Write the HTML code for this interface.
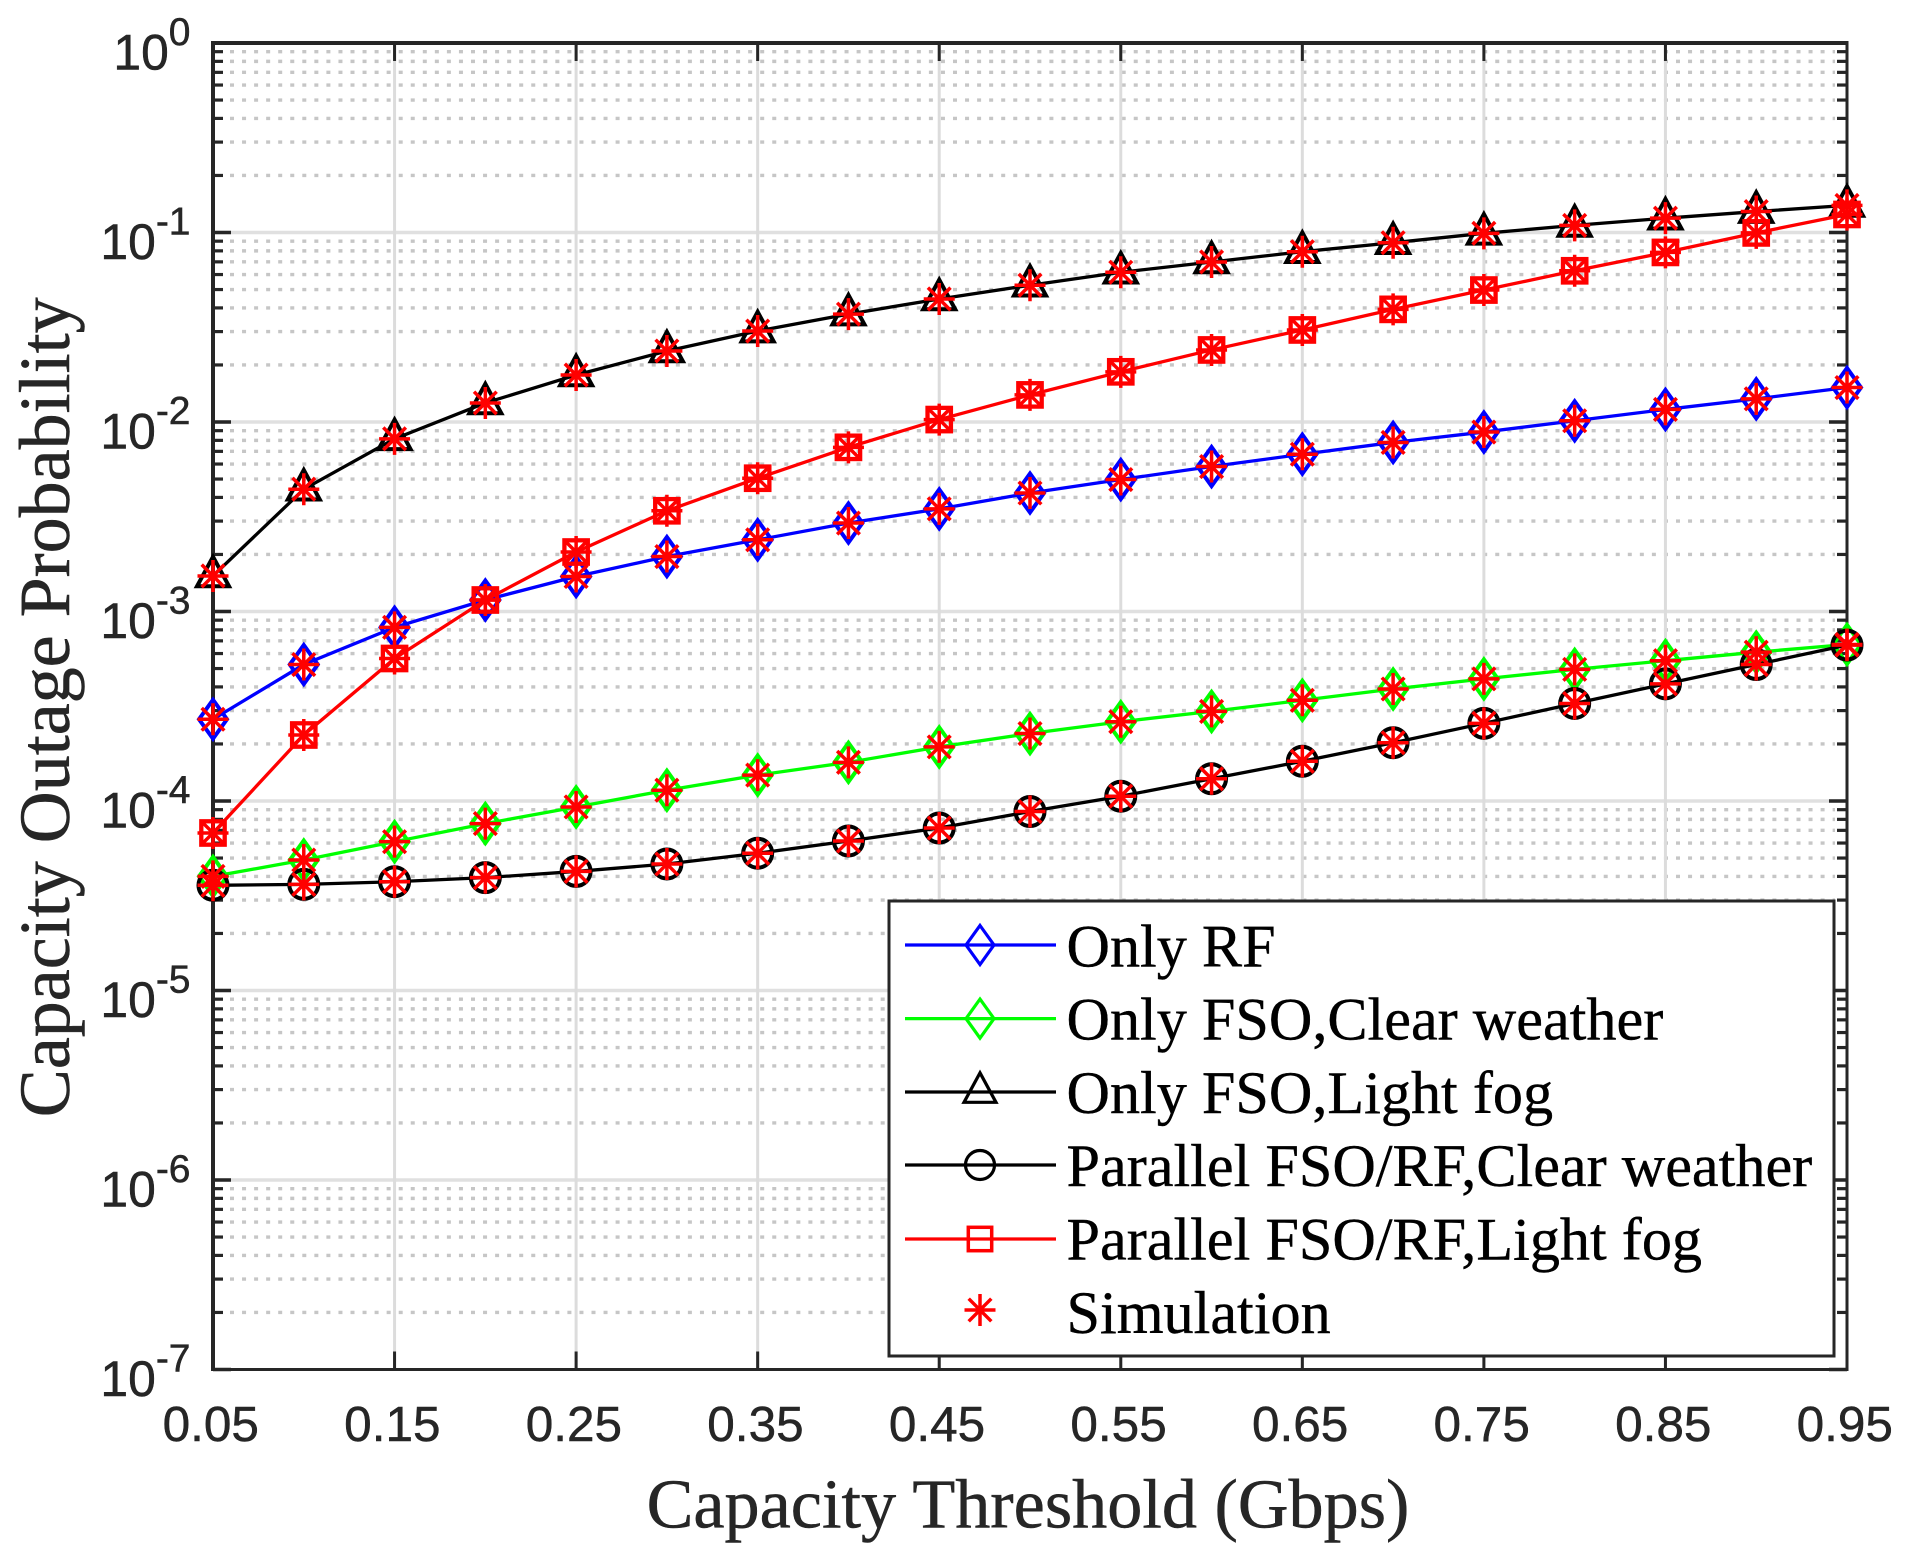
<!DOCTYPE html>
<html lang="en">
<head>
<meta charset="utf-8">
<title>Capacity Outage Probability</title>
<style>
html,body{margin:0;padding:0;background:#fff;}
svg{display:block;}
text{fill:#262626;}
.serif{font-family:"Liberation Serif","Times New Roman",serif;}
.sans{font-family:"Liberation Sans",Arial,sans-serif;}
</style>
</head>
<body>
<svg id="chart" xmlns="http://www.w3.org/2000/svg" width="1909" height="1556" viewBox="0 0 1909 1556"></svg>
<script>
// ---- chart data ----
const categories = [0.05,0.10,0.15,0.20,0.25,0.30,0.35,0.40,0.45,0.50,0.55,0.60,0.65,0.70,0.75,0.80,0.85,0.90,0.95];
const onlyRF = [2.7e-4,5.25e-4,8.25e-4,1.15e-3,1.53e-3,1.95e-3,2.39e-3,2.93e-3,3.48e-3,4.22e-3,4.97e-3,5.82e-3,6.76e-3,7.8e-3,8.85e-3,1.015e-2,1.165e-2,1.325e-2,1.52e-2];
const onlyFsoClear = [4.0e-5,4.88e-5,6.1e-5,7.6e-5,9.3e-5,1.14e-4,1.37e-4,1.6e-4,1.93e-4,2.27e-4,2.62e-4,2.97e-4,3.4e-4,3.9e-4,4.41e-4,4.95e-4,5.5e-4,6.1e-4,6.7e-4];
const onlyFsoFog = [1.54e-3,4.42e-3,8.15e-3,1.26e-2,1.77e-2,2.37e-2,3.02e-2,3.71e-2,4.46e-2,5.27e-2,6.17e-2,6.99e-2,7.92e-2,8.83e-2,9.9e-2,1.09e-1,1.19e-1,1.29e-1,1.39e-1];
const parallelClear = [3.59e-5,3.63e-5,3.75e-5,3.94e-5,4.25e-5,4.65e-5,5.3e-5,6.15e-5,7.2e-5,8.8e-5,1.06e-4,1.31e-4,1.62e-4,2.03e-4,2.57e-4,3.27e-4,4.15e-4,5.25e-4,6.65e-4];
const parallelFog = [6.78e-5,2.23e-4,5.65e-4,1.15e-3,2.06e-3,3.4e-3,5.05e-3,7.35e-3,1.03e-2,1.39e-2,1.84e-2,2.4e-2,3.06e-2,3.93e-2,4.97e-2,6.28e-2,7.85e-2,9.95e-2,1.245e-1];
const xTickLabels = ["0.05","0.15","0.25","0.35","0.45","0.55","0.65","0.75","0.85","0.95"];
const yTickExponents = [0,-1,-2,-3,-4,-5,-6,-7];
const minorMultipliers = [2,3,4,5,6,7,8,9];
const legendLabels = ["Only RF","Only FSO,Clear weather","Only FSO,Light fog","Parallel FSO/RF,Clear weather","Parallel FSO/RF,Light fog","Simulation"];

// ---- axis functions ----
const plotLeft = 213, plotRight = 1847, plotTop = 43, plotBottom = 1369.5;
const xMin = 0.05, xMax = 0.95, yMinExp = -7, yMaxExp = 0;
function xScale(v){ return plotLeft + (v - xMin) / (xMax - xMin) * (plotRight - plotLeft); }
function yScale(v){ return plotTop + (yMaxExp - Math.log10(v)) / (yMaxExp - yMinExp) * (plotBottom - plotTop); }

const NS = "http://www.w3.org/2000/svg";
const svg = document.getElementById("chart");
function mk(tag, attrs, parent){
  const e = document.createElementNS(NS, tag);
  for (const k in attrs) e.setAttribute(k, attrs[k]);
  (parent || svg).appendChild(e);
  return e;
}
function group(parent){ return mk("g", {}, parent); }

// ---- grid ----
const gridGroup = group(svg);


yTickExponents.forEach(function(ex){
  if (ex > yMinExp) minorMultipliers.forEach(function(m){
    const y = yScale(m * Math.pow(10, ex - 1));
    const g = mk("line", {x1:230, x2:1835, y1:y, y2:y, stroke:"#c6c6c6", "stroke-width":3.4, "stroke-dasharray":"4 8.05"}, gridGroup);
    
    
  });
  if (ex < yMaxExp && ex > yMinExp) {
    const y = yScale(Math.pow(10, ex));
    const g = mk("line", {x1:plotLeft, x2:plotRight, y1:y, y2:y, stroke:"#e0e0e0", "stroke-width":3.6}, gridGroup);
    
    
  }
});
xTickLabels.forEach(function(lbl){
  const x = xScale(parseFloat(lbl));
  const g = mk("line", {x1:x, x2:x, y1:plotTop, y2:plotBottom, stroke:"#dcdcdc", "stroke-width":3}, gridGroup);
  
  
});

// ---- axes box and ticks ----
const axesGroup = group(svg);


function axisLine(x1, y1, x2, y2, w, name){
  const a = mk("line", {x1:x1, y1:y1, x2:x2, y2:y2, stroke:"#262626", "stroke-width":w}, axesGroup);
  
  
}
axisLine(plotLeft, plotTop - 2, plotLeft, plotBottom + 1.5, 4, 'y-axis-line');
axisLine(plotLeft, plotTop, plotRight + 1.5, plotTop, 4, 'top-axis-line');
axisLine(plotRight, plotTop, plotRight, plotBottom + 1.5, 3, 'right-axis-line');
axisLine(plotLeft, plotBottom, plotRight + 1.5, plotBottom, 3, 'x-axis-line');
function tick(x1, y1, x2, y2, name, w){
  const t = mk("line", {x1:x1, y1:y1, x2:x2, y2:y2, stroke:"#262626", "stroke-width":w}, axesGroup);
  
  
}
xTickLabels.forEach(function(lbl){
  const x = xScale(parseFloat(lbl));
  tick(x, plotBottom, x, plotBottom - 18, 'x-tick', 3);
  tick(x, plotTop, x, plotTop + 18, 'x-tick-top', 3);
  const t = mk("text", {x:x - 2.2, y:1441, "text-anchor":"middle", "font-size":49.5, stroke:"#262626", "stroke-width":0.5, "class":"sans"}, svg);
  t.textContent = lbl;
  
  
});
yTickExponents.forEach(function(ex){
  const y = yScale(Math.pow(10, ex));
  tick(plotLeft, y, plotLeft + 18, y, 'y-tick', 3.6);
  tick(plotRight, y, plotRight - 18, y, 'y-tick-right', 3.6);
  if (ex > yMinExp) minorMultipliers.forEach(function(m){
    const ym = yScale(m * Math.pow(10, ex - 1));
    tick(plotLeft, ym, plotLeft + 10, ym, 'y-minor-tick', 3.2);
    tick(plotRight, ym, plotRight - 10, ym, 'y-minor-tick-right', 3.2);
  });
  const t = mk("text", {x:190.5, y:y + 26.5, "text-anchor":"end", "font-size":49.8, stroke:"#262626", "stroke-width":0.5, "class":"sans"}, svg);
  
  
  const base = mk("tspan", {}, t);
  base.textContent = "10";
  const exp = mk("tspan", {dy:-24.5, "font-size":39}, t);
  exp.textContent = String(ex);
});

// ---- markers ----
function drawMarker(kind, x, y, color, parent, sw){
  let m;
  if (kind === "diamond") {
    m = mk("polygon", {points:[x,y-19.5,x+14,y,x,y+19.5,x-14,y].join(" "), fill:"none", stroke:color, "stroke-width":sw, "stroke-miterlimit":10}, parent);
  } else if (kind === "triangle") {
    m = mk("polygon", {points:[x,y-19.2,x+16,y+10.3,x-16,y+10.3].join(" "), fill:"none", stroke:color, "stroke-width":sw, "stroke-miterlimit":10}, parent);
  } else if (kind === "circle") {
    m = mk("circle", {cx:x, cy:y, r:14.5, fill:"none", stroke:color, "stroke-width":sw}, parent);
  } else if (kind === "square") {
    m = mk("rect", {x:x-11.7, y:y-11.7, width:23.4, height:23.4, fill:"none", stroke:color, "stroke-width":sw + 0.3}, parent);
  } else {
    const d = "M"+(x-15.5)+" "+y+"H"+(x+15.5)+"M"+x+" "+(y-16)+"V"+(y+16)+
      "M"+(x-11.3)+" "+(y-11.3)+"L"+(x+11.3)+" "+(y+11.3)+"M"+(x-11.3)+" "+(y+11.3)+"L"+(x+11.3)+" "+(y-11.3);
    m = mk("path", {d:d, fill:"none", stroke:color, "stroke-width":3.5}, parent);
  }
  
  
  return m;
}

// ---- series ----
const seriesList = [
  {name:"only-rf-series", values:onlyRF, color:"#0000ff", marker:"diamond"},
  {name:"only-fso-clear-series", values:onlyFsoClear, color:"#00ff00", marker:"diamond"},
  {name:"only-fso-fog-series", values:onlyFsoFog, color:"#000000", marker:"triangle"},
  {name:"parallel-clear-series", values:parallelClear, color:"#000000", marker:"circle"},
  {name:"parallel-fog-series", values:parallelFog, color:"#ff0000", marker:"square"}
];
seriesList.forEach(function(s){
  const g = group(svg);
  
  
  const pts = s.values.map(function(v, i){ return xScale(categories[i]) + "," + yScale(v); }).join(" ");
  const line = mk("polyline", {points:pts, fill:"none", stroke:s.color, "stroke-width":3.3}, g);
  
  
  s.values.forEach(function(v, i){ drawMarker(s.marker, xScale(categories[i]), yScale(v), s.color, g, 4); });
});
const simGroup = group(svg);


seriesList.forEach(function(s){
  s.values.forEach(function(v, i){ drawMarker("star", xScale(categories[i]), yScale(v), "#ff0000", simGroup, 3.5); });
});

// ---- axis titles ----
const xTitle = mk("text", {x:1028, y:1527.5, "text-anchor":"middle", "font-size":70.2, stroke:"#262626", "stroke-width":0.5, "class":"serif"}, svg);
xTitle.textContent = "Capacity Threshold (Gbps)";


const yTitle = mk("text", {transform:"translate(69 707.3) rotate(-90)", "text-anchor":"middle", "font-size":72, stroke:"#262626", "stroke-width":0.5, "class":"serif"}, svg);
yTitle.textContent = "Capacity Outage Probability";



// ---- legend ----
const legend = group(svg);


const legendBox = mk("rect", {x:889, y:901, width:945, height:455, fill:"#ffffff", stroke:"#262626", "stroke-width":3}, legend);


const legendY = [945, 1018.6, 1092, 1165, 1239, 1310];
const legendBaseline = [966.7, 1039.5, 1113, 1186, 1259.5, 1333];
const legendStyles = [
  {color:"#0000ff", marker:"diamond"},
  {color:"#00ff00", marker:"diamond"},
  {color:"#000000", marker:"triangle"},
  {color:"#000000", marker:"circle"},
  {color:"#ff0000", marker:"square"},
  {color:"#ff0000", marker:"star"}
];
legendLabels.forEach(function(lbl, i){
  const g = group(legend);
  
  
  const y = legendY[i], st = legendStyles[i];
  if (st.marker !== "star") {
    const l = mk("line", {x1:905, x2:1056, y1:y, y2:y, stroke:st.color, "stroke-width":3.2}, g);
    
    
  }
  drawMarker(st.marker, 980, y, st.color, g, 3.2);
  const t = mk("text", {x:1066.5, y:legendBaseline[i], "font-size":60.2, stroke:"#000", "stroke-width":0.4, "class":"serif"}, g);
  t.style.fill = "#000";
  t.textContent = lbl;
  
  
});
</script>
</body>
</html>
